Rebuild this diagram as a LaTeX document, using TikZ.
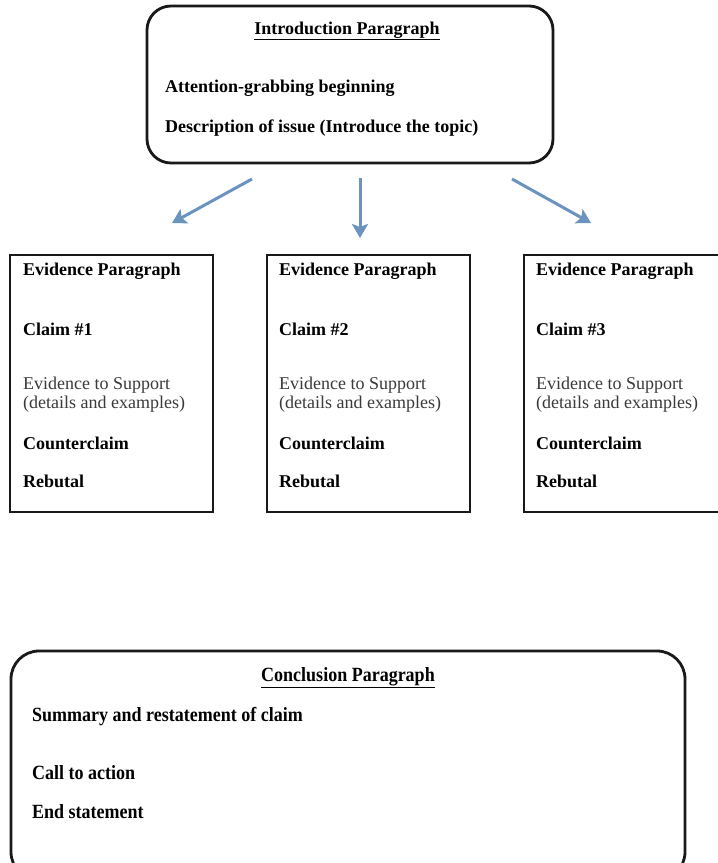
\documentclass[tikz,border=0pt]{standalone}
\usepackage{fontspec}
\setmainfont{Liberation Serif}
\usetikzlibrary{arrows.meta}
\definecolor{arrblue}{HTML}{6A93C0}
\definecolor{softgray}{HTML}{3A3A3A}
\tikzset{
  boxline/.style={draw=black!90, line width=2.8pt},
  rbox/.style={boxline, rounded corners=24pt},
  txt/.style={anchor=west, inner sep=0pt, font=\fontsize{18}{20}\selectfont\bfseries},
  rtxt/.style={anchor=west, inner sep=0pt, align=left, text=softgray, font=\fontsize{18}{20}\selectfont},
  ctxt/.style={txt, yscale=1.12},
  title/.style={anchor=center, inner sep=0pt, font=\fontsize{18}{20}\selectfont\bfseries},
  arr/.style={draw=arrblue, line width=3pt, -{Stealth[length=14pt,width=16pt,inset=3pt]}},
}
\begin{document}
\begin{tikzpicture}[x=1pt,y=-1pt]
\useasboundingbox (0,0) rectangle (718,863);
\clip (0,0) rectangle (718,863);
\fill[white] (0,0) rectangle (718,863);

% Introduction
\draw[rbox] (147,6) rectangle (553,163);
\node[title] (ititle) at (347,31) {\underline{Introduction Paragraph}};
\node[txt] (i1) at (165,88) {Attention-grabbing beginning};
\node[txt] (i2) at (165,128) {Description of issue (Introduce the topic)};

% arrows
\coordinate (s1) at (252,179);
\coordinate (t1) at (172,223);
\coordinate (s2) at (360,178);
\coordinate (t2) at (360,238);
\coordinate (s3) at (512,179);
\coordinate (t3) at (591,223);
\draw[arr] (s1) -- (t1);
\draw[arr] (s2) -- (t2);
\draw[arr] (s3) -- (t3);

% Evidence boxes
\foreach \bx/\tx/\n in {10/23/1, 267/279/2, 524/536/3}{
  \draw[boxline] (\bx,255) rectangle (\bx+203,512);
  \node[txt] (ep\n) at (\tx,271) {Evidence Paragraph};
  \node[txt] (cl\n) at (\tx,329) {Claim \#\n};
  \node[rtxt] (ev\n) at (\tx,395) {Evidence to Support\\[-1pt](details and examples)};
  \node[txt] (cc\n) at (\tx,443) {Counterclaim};
  \node[txt] (rb\n) at (\tx,481) {Rebutal};
}

% Conclusion
\draw[boxline, rounded corners=28pt] (11,651) rectangle (685,880);
\node[title, yscale=1.12] (ctitle) at (348,678) {\underline{Conclusion Paragraph}};
\node[ctxt] (c1) at (32,717) {Summary and restatement of claim};
\node[ctxt] (c2) at (32,773) {Call to action};
\node[ctxt] (c3) at (32,812) {End statement};
\end{tikzpicture}
\end{document}
